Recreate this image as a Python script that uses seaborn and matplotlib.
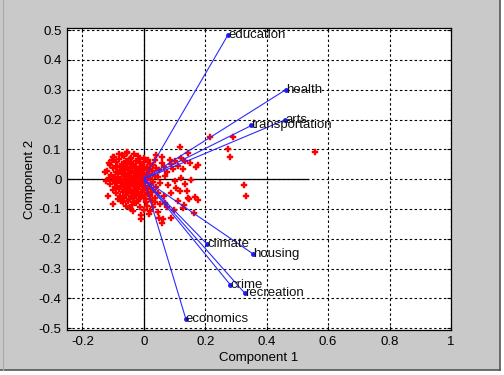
import matplotlib
matplotlib.use("Agg")
import matplotlib.pyplot as plt
import seaborn as sns
import pandas as pd
from matplotlib.patches import Rectangle
from matplotlib.lines import Line2D

# ---- data ----
variables = ["climate", "housing", "health", "crime", "transportation",
             "education", "arts", "recreation", "economics"]
coef_c1 = [0.206, 0.356, 0.462, 0.282, 0.350, 0.2745, 0.460, 0.329, 0.137]
coef_c2 = [-0.218, -0.251, 0.300, -0.355, 0.180, 0.485, 0.199, -0.383, -0.470]

cloud_upper = [
    (-0.055, 0.088), (-0.031, 0.083), (-0.072, 0.081),
    (-0.096, 0.074), (-0.063, 0.077), (-0.041, 0.072), (-0.019, 0.078), (0.001, 0.071),
    (-0.104, 0.063), (-0.081, 0.067), (-0.058, 0.061), (-0.046, 0.068), (-0.026, 0.062), (-0.011, 0.066), (0.014, 0.064),
    (-0.089, 0.056), (-0.071, 0.052), (-0.049, 0.057), (-0.036, 0.051), (-0.014, 0.054), (0.002, 0.058), (0.021, 0.052),
    (-0.111, 0.046), (-0.086, 0.043), (-0.066, 0.048), (-0.054, 0.041), (-0.039, 0.046), (-0.024, 0.042), (-0.006, 0.047), (0.011, 0.041), (0.031, 0.046),
    (-0.099, 0.036), (-0.077, 0.032), (-0.061, 0.038), (-0.044, 0.033), (-0.029, 0.037), (-0.017, 0.031), (-0.003, 0.035), (0.019, 0.033), (0.041, 0.038),
]
cloud_middle = [
    (-0.119, 0.026), (-0.091, 0.023), (-0.069, 0.028), (-0.051, 0.022), (-0.037, 0.027), (-0.021, 0.024), (-0.009, 0.028), (0.009, 0.022), (0.026, 0.027),
    (-0.106, 0.014), (-0.083, 0.017), (-0.063, 0.012), (-0.047, 0.016), (-0.033, 0.011), (-0.019, 0.017), (-0.005, 0.013), (0.013, 0.016), (0.036, 0.012),
    (-0.113, 0.004), (-0.093, 0.007), (-0.074, 0.002), (-0.057, 0.006), (-0.042, 0.003), (-0.027, 0.008), (-0.013, 0.002), (0.003, 0.006), (0.021, 0.003), (0.046, 0.007),
    (-0.101, -0.006), (-0.079, -0.003), (-0.065, -0.008), (-0.049, -0.004), (-0.035, -0.007), (-0.021, -0.002), (-0.007, -0.006), (0.011, -0.004), (0.031, -0.008),
    (-0.109, -0.016), (-0.087, -0.013), (-0.069, -0.018), (-0.054, -0.014), (-0.039, -0.017), (-0.025, -0.012), (-0.011, -0.016), (0.005, -0.013), (0.023, -0.017), (0.051, -0.014),
]
cloud_lower = [
    (-0.094, -0.026), (-0.075, -0.023), (-0.059, -0.028), (-0.045, -0.024), (-0.029, -0.027), (-0.015, -0.022), (0.001, -0.026), (0.017, -0.023), (0.039, -0.027),
    (-0.101, -0.036), (-0.081, -0.033), (-0.063, -0.038), (-0.049, -0.034), (-0.033, -0.037), (-0.019, -0.032), (-0.003, -0.036), (0.013, -0.033), (0.031, -0.038),
    (-0.089, -0.046), (-0.069, -0.043), (-0.053, -0.048), (-0.037, -0.044), (-0.021, -0.047), (-0.007, -0.042), (0.009, -0.046), (0.027, -0.043), (0.046, -0.048),
    (-0.077, -0.056), (-0.059, -0.053), (-0.043, -0.058), (-0.027, -0.054), (-0.011, -0.057), (0.005, -0.052), (0.021, -0.056),
    (-0.084, -0.066), (-0.065, -0.063), (-0.049, -0.068), (-0.031, -0.064), (-0.015, -0.067), (0.001, -0.062), (0.019, -0.066), (0.036, -0.063),
    (-0.069, -0.076), (-0.051, -0.073), (-0.035, -0.078), (-0.019, -0.074), (0.007, -0.077), (0.026, -0.073),
    (-0.059, -0.091), (-0.039, -0.088), (-0.014, -0.093), (0.011, -0.089), (0.031, -0.094),
    (-0.034, -0.106), (0.001, -0.103), (0.021, -0.108),
    (-0.009, -0.121), (0.016, -0.118),
]
cloud_dense = [
    (-0.045, 0.020), (-0.035, 0.000), (-0.025, 0.015), (-0.055, 0.010), (-0.040, -0.010),
    (-0.030, 0.025), (-0.015, 0.005), (-0.050, 0.030), (-0.060, 0.000), (-0.020, -0.010),
    (-0.010, 0.020), (-0.070, 0.020), (-0.065, -0.020), (-0.045, -0.020), (-0.030, -0.020),
    (-0.040, 0.040), (-0.020, 0.035), (-0.055, 0.050), (-0.075, 0.040), (-0.080, 0.000),
    (-0.005, -0.020), (0.005, 0.000), (-0.028, -0.045), (-0.052, -0.040), (-0.012, 0.040),
    (0.000, 0.030),
]
cloud_outer = [
    (-0.127, 0.023), (-0.122, -0.007), (-0.116, -0.057), (-0.100, -0.083), (-0.073, -0.074),
    (-0.046, -0.096), (-0.024, -0.080), (-0.008, -0.135), (-0.102, 0.074), (-0.055, 0.092),
    (-0.082, 0.085), (-0.115, 0.055), (0.039, 0.081), (0.035, 0.065),
]
tail_up = [
    (0.050, 0.030), (0.065, 0.042), (0.075, 0.025), (0.088, 0.050), (0.100, 0.060),
    (0.112, 0.045), (0.122, 0.070), (0.133, 0.062), (0.118, 0.109), (0.143, 0.088),
    (0.128, 0.035), (0.095, 0.035), (0.060, 0.055), (0.070, 0.010), (0.170, 0.040),
    (0.176, 0.047), (0.215, 0.140), (0.291, 0.140), (0.275, 0.100), (0.282, 0.074),
    (0.557, 0.091), (0.058, 0.075), (0.150, 0.055), (0.085, 0.065),
]
tail_down = [
    (0.155, -0.002), (0.163, -0.114), (0.176, -0.069), (0.167, -0.060), (0.146, -0.068),
    (0.130, -0.087), (0.097, -0.105), (0.059, -0.147), (0.049, -0.130), (0.062, -0.135),
    (0.326, -0.021), (0.331, -0.055), (0.134, -0.016), (0.106, -0.029), (0.117, -0.040),
    (0.139, -0.040), (0.090, -0.046), (0.144, -0.063), (0.111, -0.074), (0.127, -0.096),
    (0.090, -0.130), (0.068, -0.080), (0.051, -0.085), (0.080, -0.020), (0.065, -0.055),
    (0.100, -0.005), (0.120, 0.005), (0.075, -0.095), (0.045, -0.110), (0.035, -0.075),
]

x_ticks = [-0.2, 0, 0.2, 0.4, 0.6, 0.8, 1]
x_tick_labels = ["-0.2", "0", "0.2", "0.4", "0.6", "0.8", "1"]
y_ticks = [-0.5, -0.4, -0.3, -0.2, -0.1, 0, 0.1, 0.2, 0.3, 0.4, 0.5]
y_tick_labels = ["-0.5", "-0.4", "-0.3", "-0.2", "-0.1", "0", "0.1", "0.2", "0.3", "0.4", "0.5"]

# ---- figure ----
plt.rcParams["font.family"] = ["Liberation Sans", "DejaVu Sans"]
fig = plt.figure(figsize=(5.04, 3.75), dpi=100, facecolor="white")
fig.patches.append(Rectangle((0, 0.013), 0.993, 0.987, transform=fig.transFigure,
                             facecolor="#c9c9c9", edgecolor="none", zorder=-10))
fig.lines.append(Line2D([0.993, 0.993], [0.013, 1.0], transform=fig.transFigure,
                        color="#555555", lw=1.2))
fig.lines.append(Line2D([0.0, 0.993], [0.013, 0.013], transform=fig.transFigure,
                        color="#555555", lw=1.2))
fig.lines.append(Line2D([0.006, 0.006], [0.013, 1.0], transform=fig.transFigure,
                        color="#a8a8a8", lw=0.8))

ax = fig.add_axes([0.133, 0.12, 0.762, 0.8045])
ax.set_facecolor("white")

for xv in x_ticks:
    ax.axvline(xv, color="black", lw=0.8, ls=(0, (2.2, 2.2)), zorder=0)
for yv in y_ticks:
    ax.axhline(yv, color="black", lw=0.8, ls=(0, (2.2, 2.2)), zorder=0)

maxlen = 0.535
ax.plot([-maxlen, maxlen], [0, 0], color="black", lw=0.9, zorder=1)
ax.plot([0, 0], [-maxlen, maxlen], color="black", lw=0.9, zorder=1)

all_groups = [cloud_upper, cloud_middle, cloud_lower, cloud_dense, cloud_outer, tail_up, tail_down]
pts = [p for g in all_groups for p in g]
scores = pd.DataFrame({"c1": [p[0] for p in pts], "c2": [p[1] for p in pts]})
sns.scatterplot(data=scores, x="c1", y="c2", ax=ax, marker="P", s=15,
                color="#ff0000", edgecolor="#ff0000", linewidth=0.3, zorder=2)

for name, cx, cy in zip(variables, coef_c1, coef_c2):
    ax.plot([0, cx], [0, cy], color="#2b2bff", lw=0.8, zorder=3)
    ax.plot([cx], [cy], marker="o", ms=2.5, color="#1a1aff", zorder=4)
    ax.text(cx, cy, name, fontsize=9.5, ha="left", va="center", color="#111111", zorder=5)

ax.set_xlim(-0.25, 1.0)
ax.set_ylim(-0.506, 0.506)
ax.set_xticks(x_ticks)
ax.set_xticklabels(x_tick_labels)
ax.set_yticks(y_ticks)
ax.set_yticklabels(y_tick_labels)
ax.tick_params(direction="in", length=3, width=0.8, top=True, right=True,
               labelsize=9.5, colors="black", pad=4)
for sp in ax.spines.values():
    sp.set_color("black")
    sp.set_linewidth(0.9)
ax.set_xlabel("Component 1", fontsize=9.5, labelpad=3)
ax.set_ylabel("Component 2", fontsize=9.5, labelpad=2)

fig.savefig("out.png", dpi=100, facecolor=fig.get_facecolor())
